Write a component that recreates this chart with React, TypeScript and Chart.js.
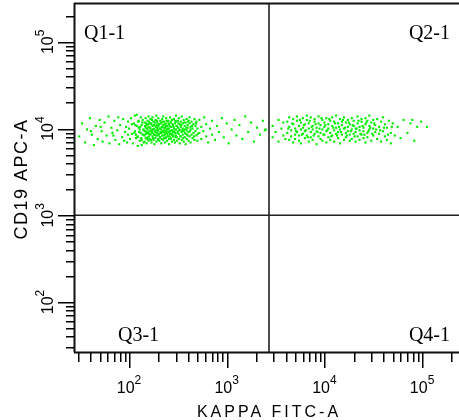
import React, { useEffect, useRef } from "react";
import { Chart, registerables } from "chart.js";

Chart.register(...registerables);

// Axis ranges (data units, log scales)
const X_MIN = 28.0;
const X_MAX = 238700;
const Y_MIN = 26.5;
const Y_MAX = 273500;

// Quadrant gate positions
const GATE_X = 2710;
const GATE_Y = 1000;

const DECADE_EXPONENTS = [2, 3, 4, 5];
const X_TITLE = "KAPPA FITC-A";
const Y_TITLE = "CD19 APC-A";
const QUADRANT_LABELS = ["Q1-1", "Q2-1", "Q3-1", "Q4-1"];

// Events as [log10(KAPPA FITC-A), log10(CD19 APC-A)]
const q1Points: number[][] = [
  [1.49,3.91],[1.52,4.06],[1.55,3.84],[1.57,3.99],[1.60,4.12],[1.62,3.93],[1.64,3.81],[1.66,4.03],[1.68,3.88],[1.70,4.10],
  [1.72,3.97],[1.73,3.85],[1.75,4.07],[1.77,3.92],[1.79,4.14],[1.80,3.83],[1.82,4.01],[1.83,3.95],[1.85,4.09],[1.86,3.87],
  [1.88,3.98],[1.89,4.13],[1.90,3.82],[1.91,4.04],[1.93,3.90],[1.94,4.11],[1.95,3.86],[1.96,3.96],[1.97,4.02],[1.98,3.84],
  [1.99,4.08],[1.99,3.93],[1.61,3.97],[1.71,4.02],[1.84,3.92],
  [2.00,4.00],[2.01,3.88],[2.02,4.12],[2.03,3.94],[2.04,3.83],[2.05,4.06],[2.06,3.97],[2.06,4.15],[2.07,3.89],[2.08,4.03],
  [2.09,3.91],[2.09,3.80],[2.10,4.09],[2.11,3.99],[2.11,3.86],[2.12,4.13],[2.12,3.95],[2.13,4.04],[2.13,3.87],[2.14,3.93],
  [2.14,4.10],[2.15,3.98],[2.15,3.84],[2.10,4.01],[2.07,3.93],[2.03,4.05],[2.13,3.81],[2.08,4.16],
  [2.16,3.92],[2.16,4.07],[2.16,3.85],[2.17,4.01],[2.17,3.89],[2.17,4.12],[2.18,3.96],[2.18,4.04],[2.18,3.83],
  [2.19,3.90],[2.19,4.09],[2.19,3.99],[2.20,4.02],[2.20,3.86],[2.20,3.94],[2.20,4.14],[2.21,3.97],[2.21,4.06],[2.21,3.88],
  [2.22,3.93],[2.22,4.11],[2.22,4.00],[2.23,3.84],[2.23,3.98],[2.23,4.05],[2.24,4.03],[2.24,3.91],[2.24,3.95],[2.24,4.13],
  [2.25,3.87],[2.25,4.08],[2.25,3.99],[2.26,4.00],[2.26,3.93],[2.26,3.82],[2.27,4.10],[2.27,3.96],[2.27,3.89],
  [2.28,4.04],[2.28,3.85],[2.28,3.98],[2.28,4.15],[2.29,3.92],[2.29,4.07],[2.29,4.01],[2.30,3.88],[2.30,3.97],[2.30,4.12],
  [2.30,4.03],[2.31,3.94],[2.31,4.05],[2.31,3.86],[2.32,4.00],[2.32,3.90],[2.32,4.09],[2.33,3.83],[2.33,3.99],[2.33,4.06],
  [2.33,3.95],[2.34,4.11],[2.34,3.92],[2.34,4.02],[2.35,3.87],[2.35,4.04],[2.35,3.96],[2.35,4.14],[2.36,3.98],[2.36,3.89],
  [2.36,4.08],[2.37,4.01],[2.37,3.93],[2.37,3.84],[2.38,4.06],[2.38,3.97],[2.38,3.90],[2.38,4.12],[2.39,3.95],[2.39,4.03],
  [2.39,3.86],[2.40,4.09],[2.40,3.99],[2.40,3.91],[2.41,3.88],[2.41,4.05],[2.41,4.00],[2.41,3.82],[2.42,3.94],[2.42,4.13],
  [2.42,3.97],[2.43,4.02],[2.43,3.89],[2.43,4.07],[2.44,3.85],[2.44,3.98],[2.44,4.10],[2.44,3.93],[2.45,4.04],[2.45,3.91],
  [2.45,3.96],[2.46,4.00],[2.46,4.11],[2.46,3.87],[2.47,3.95],[2.47,3.84],[2.47,4.06],[2.48,4.08],[2.48,3.92],[2.48,3.99],
  [2.48,4.15],[2.49,3.90],[2.49,4.03],[2.49,3.86],[2.50,3.97],[2.50,4.09],[2.50,4.01],[2.51,3.88],[2.51,3.94],[2.51,4.12],
  [2.52,4.05],[2.52,3.83],[2.52,3.98],[2.53,3.91],[2.53,4.02],[2.53,4.08],[2.54,3.96],[2.54,3.87],[2.54,4.14],[2.55,4.00],
  [2.55,3.93],[2.55,4.06],[2.56,3.85],[2.56,4.10],[2.56,3.97],[2.57,4.03],[2.57,3.90],[2.57,3.99],[2.58,3.94],[2.58,4.07],
  [2.58,3.82],[2.59,4.11],[2.59,3.98],[2.59,3.88],[2.60,3.92],[2.60,4.04],[2.60,4.01],[2.61,3.86],[2.61,3.96],[2.61,4.09],
  [2.62,4.06],[2.62,3.91],[2.62,4.13],[2.63,3.99],[2.63,3.84],[2.63,4.02],[2.64,3.93],[2.64,4.08],[2.65,4.00],[2.65,3.89],
  [2.66,4.05],[2.66,3.95],[2.67,3.87],[2.67,4.11],[2.68,3.97],[2.68,4.03],[2.69,3.92],[2.69,4.08],[2.70,3.86],[2.70,4.00],
  [2.055,3.95],[2.065,4.04],[2.085,3.90],[2.095,4.08],[2.105,3.96],[2.115,4.02],[2.125,3.89],[2.135,4.07],[2.145,3.99],[2.155,3.93],
  [2.165,4.03],[2.165,3.97],[2.175,3.94],[2.175,4.06],[2.185,4.00],[2.185,3.88],[2.195,4.05],[2.195,3.95],[2.205,3.91],[2.205,4.08],
  [2.215,4.01],[2.215,3.94],[2.225,4.06],[2.225,3.87],[2.235,3.96],[2.235,4.10],[2.245,3.99],[2.245,3.89],[2.255,4.04],[2.255,3.93],
  [2.265,3.97],[2.265,4.07],[2.275,3.92],[2.275,4.02],[2.285,3.95],[2.285,4.09],[2.295,3.99],[2.295,3.87],[2.305,4.05],[2.305,3.93],
  [2.315,4.00],[2.315,3.90],[2.325,4.07],[2.325,3.96],[2.335,4.02],[2.335,3.88],[2.345,3.97],[2.345,4.08],[2.355,3.92],[2.355,4.01],
  [2.365,4.05],[2.365,3.95],[2.375,3.89],[2.375,4.03],[2.385,3.99],[2.385,4.09],[2.395,3.93],[2.395,4.00],[2.405,4.06],[2.405,3.96],
  [2.415,3.91],[2.415,4.03],[2.425,4.08],[2.425,3.88],[2.435,3.98],[2.435,3.94],[2.445,4.05],[2.455,3.92],[2.455,4.02],[2.465,3.97],
  [2.475,4.09],[2.475,3.90],[2.485,4.03],[2.495,3.95],[2.505,4.06],[2.515,3.99],[2.525,3.91],[2.535,4.04],[2.545,3.98],[2.555,3.89],
  [2.565,4.07],[2.575,3.95],[2.585,4.01],[2.595,3.93],[2.605,4.08],[2.625,3.97],[2.645,4.03],[2.665,3.91],[2.685,4.06],[2.705,3.94],
  [2.72,3.95],[2.72,4.10],[2.74,4.02],[2.74,3.88],[2.76,3.97],[2.77,4.13],[2.79,3.91],[2.79,4.05],[2.81,3.84],[2.83,4.00],
  [2.85,3.93],[2.85,4.09],[2.88,3.87],[2.90,4.03],[2.92,3.96],[2.95,4.12],[2.97,3.90],[3.00,4.06],[3.02,3.83],[3.05,3.99],
  [3.08,4.10],[3.10,3.92],[3.13,4.04],[3.16,3.88],[3.19,4.14],[3.22,3.96],[3.25,4.07],[3.28,3.85],[3.31,4.01],[3.34,3.93],
  [3.37,4.09],[3.39,3.98],[3.40,3.99],
];

const q2Points: number[][] = [
  [3.47,4.03],[3.47,3.90],[3.50,3.96],[3.53,4.10],[3.53,3.85],[3.56,4.00],[3.58,3.92],[3.58,4.07],[3.60,3.88],
  [3.62,3.95],[3.62,4.08],[3.64,3.87],[3.64,4.02],[3.64,4.13],[3.66,3.98],[3.66,3.91],[3.68,4.05],[3.68,3.84],[3.68,4.11],
  [3.70,3.93],[3.70,4.00],[3.70,3.88],[3.72,4.09],[3.72,3.96],[3.72,4.14],[3.74,3.86],[3.74,4.03],[3.74,3.92],[3.76,4.07],
  [3.76,3.99],[3.76,3.83],[3.78,3.94],[3.78,4.12],[3.78,4.01],[3.80,3.89],[3.80,4.05],[3.80,3.97],[3.82,4.10],[3.82,3.92],
  [3.82,4.15],[3.84,3.85],[3.84,4.00],[3.84,4.06],[3.86,3.96],[3.86,3.90],[3.86,4.13],[3.88,4.03],[3.88,3.87],[3.88,3.99],
  [3.90,4.08],[3.90,3.94],[3.90,4.11],[3.92,3.82],[3.92,4.01],[3.92,3.97],[3.94,4.06],[3.94,3.91],[3.94,4.14],[3.96,3.88],
  [3.96,4.04],[3.96,3.95],[3.98,4.10],[3.98,3.99],[3.98,3.86],[4.00,3.93],[4.00,4.07],[4.00,4.02],[4.02,3.84],[4.02,3.97],
  [4.02,4.12],[4.04,4.05],[4.04,3.90],[4.04,4.00],[4.06,3.95],[4.06,4.09],[4.06,3.87],[4.08,4.13],[4.08,3.92],[4.08,4.03],
  [4.10,3.98],[4.10,3.85],[4.10,4.08],[4.12,4.01],[4.12,3.94],[4.12,4.15],[4.14,3.89],[4.14,4.06],[4.14,3.96],[4.16,4.11],
  [4.16,3.99],[4.16,3.83],[4.18,3.93],[4.18,4.04],[4.18,4.08],[4.20,3.87],[4.20,4.00],[4.20,4.13],[4.22,4.07],[4.22,3.95],
  [4.22,3.90],[4.24,3.97],[4.24,4.10],[4.24,4.02],[4.26,3.86],[4.26,4.05],[4.26,3.93],[4.28,4.12],[4.28,3.99],[4.28,3.88],
  [4.30,3.94],[4.30,4.03],[4.30,4.09],[4.32,4.00],[4.32,3.85],[4.32,3.96],[4.34,4.14],[4.34,3.91],[4.34,4.06],[4.36,3.98],
  [4.36,4.02],[4.36,3.87],[4.38,4.08],[4.38,3.93],[4.38,4.11],[4.40,3.89],[4.40,4.01],[4.40,3.97],[4.42,4.05],[4.42,3.84],
  [4.42,4.12],[4.44,3.95],[4.44,4.09],[4.44,3.90],[4.46,4.03],[4.46,3.99],[4.46,4.15],[4.48,3.86],[4.48,4.07],[4.50,4.00],
  [4.50,3.92],[4.50,4.10],[4.52,3.96],[4.52,4.04],[4.54,3.88],[4.54,4.11],[4.56,4.02],[4.56,3.94],[4.58,4.08],[4.58,3.85],
  [4.60,3.97],[4.60,4.13],[4.62,3.91],[4.62,4.05],[4.64,4.01],[4.64,3.87],[4.66,4.09],[4.68,3.95],[4.68,3.83],[4.70,4.06],
  [3.63,4.00],[3.67,4.06],[3.71,3.97],[3.75,4.10],[3.77,3.93],[3.79,4.04],[3.81,3.98],[3.83,3.90],[3.85,4.09],[3.87,4.02],
  [3.89,3.92],[3.91,4.05],[3.93,3.96],[3.95,4.00],[3.97,4.12],[3.99,3.93],[4.01,4.04],[4.03,3.98],[4.05,4.11],[4.07,3.91],
  [4.09,4.01],[4.11,4.06],[4.13,3.92],[4.15,4.02],[4.17,3.96],[4.19,4.10],[4.21,4.01],[4.23,3.92],[4.25,4.07],[4.27,3.97],
  [4.29,4.04],[4.31,3.91],[4.33,4.00],[4.35,4.09],[4.37,3.94],[4.39,4.03],[4.41,3.93],[4.43,4.07],[4.45,3.97],[4.47,4.01],
  [4.49,3.94],[4.51,4.06],[4.53,3.99],[4.57,3.98],[4.61,4.01],[4.65,3.93],[4.69,4.02],
  [4.72,3.92],[4.75,4.02],[4.78,3.89],[4.81,4.10],[4.85,3.95],[4.88,4.06],[4.90,4.10],[4.92,3.86],[4.95,4.02],[4.99,4.08],
  [5.05,4.02],
];

const overlayPlugin = {
  id: "facsOverlay",
  beforeDatasetsDraw(chart: any) {
    const { ctx, chartArea: a, scales } = chart;
    const gx = scales.x.getPixelForValue(GATE_X);
    const gy = scales.y.getPixelForValue(GATE_Y);
    ctx.save();
    ctx.strokeStyle = "#222";
    ctx.lineWidth = 1.6;
    ctx.beginPath();
    ctx.moveTo(gx, a.top);
    ctx.lineTo(gx, a.bottom);
    ctx.moveTo(a.left, gy);
    ctx.lineTo(a.right, gy);
    ctx.stroke();
    ctx.restore();
  },
  afterDraw(chart: any) {
    const { ctx, chartArea: a, scales } = chart;
    const xs = scales.x;
    const ys = scales.y;
    ctx.save();
    // frame: top, left, bottom
    ctx.strokeStyle = "#111";
    ctx.lineWidth = 2;
    ctx.beginPath();
    ctx.moveTo(a.left - 1, a.top - 0.5);
    ctx.lineTo(a.right, a.top - 0.5);
    ctx.moveTo(a.left - 0.5, a.top - 1);
    ctx.lineTo(a.left - 0.5, a.bottom + 0.5);
    ctx.moveTo(a.left - 1, a.bottom + 0.5);
    ctx.lineTo(a.right, a.bottom + 0.5);
    ctx.stroke();

    // ticks (crisp filled rectangles)
    ctx.fillStyle = "#000";
    const axisX = Math.round(a.left) - 1;
    const axisY = Math.round(a.bottom) + 1;
    for (let e = 1; e <= 5; e++) {
      for (let k = 1; k <= 9; k++) {
        const v = k * Math.pow(10, e);
        if (v >= X_MIN && v <= X_MAX) {
          const px = Math.round(xs.getPixelForValue(v));
          const len = k === 1 ? 15 : 9;
          ctx.fillRect(px, axisY, 1.5, len);
        }
        if (v >= Y_MIN && v <= Y_MAX) {
          const py = Math.round(ys.getPixelForValue(v));
          const len = k === 1 ? 16 : 8;
          ctx.fillRect(axisX - len, py, len, 1.5);
        }
      }
    }

    // tick labels
    ctx.fillStyle = "#000";
    ctx.textBaseline = "alphabetic";
    ctx.textAlign = "left";
    const baseFont = "16px Arial, 'Liberation Sans', sans-serif";
    const supFont = "12px Arial, 'Liberation Sans', sans-serif";
    for (const e of DECADE_EXPONENTS) {
      const sup = String(e);
      ctx.font = baseFont;
      const w10 = ctx.measureText("10").width;
      ctx.font = supFont;
      const ws = ctx.measureText(sup).width;
      const total = w10 + ws;
      // x axis
      const px = xs.getPixelForValue(Math.pow(10, e));
      const sx = px - total / 2;
      ctx.font = baseFont;
      ctx.fillText("10", sx, 393);
      ctx.font = supFont;
      ctx.fillText(sup, sx + w10, 384);
      // y axis (rotated)
      const py = ys.getPixelForValue(Math.pow(10, e));
      ctx.save();
      ctx.translate(52.5, py);
      ctx.rotate(-Math.PI / 2);
      ctx.font = baseFont;
      ctx.fillText("10", -total / 2, 0);
      ctx.font = supFont;
      ctx.fillText(sup, -total / 2 + w10, -9);
      ctx.restore();
    }

    // axis titles
    ctx.textAlign = "center";
    ctx.font = "16px Arial, 'Liberation Sans', sans-serif";
    (ctx as any).letterSpacing = "3px";
    ctx.fillText(X_TITLE, (a.left + a.right) / 2 + 2, 417);
    ctx.save();
    ctx.translate(27, (a.top + a.bottom) / 2 + 1);
    ctx.rotate(-Math.PI / 2);
    ctx.font = "18px Arial, 'Liberation Sans', sans-serif";
    (ctx as any).letterSpacing = "1.5px";
    ctx.fillText(Y_TITLE, 0, 0);
    ctx.restore();
    (ctx as any).letterSpacing = "0px";

    // quadrant labels
    ctx.font = "20px 'Liberation Serif', 'Times New Roman', serif";
    ctx.textAlign = "left";
    ctx.fillText(QUADRANT_LABELS[0], 84, 39);
    ctx.fillText(QUADRANT_LABELS[2], 118, 341);
    ctx.textAlign = "right";
    ctx.fillText(QUADRANT_LABELS[1], 450, 39);
    ctx.fillText(QUADRANT_LABELS[3], 450, 341);
    ctx.restore();
  },
};

export default function App() {
  const canvasRef = useRef<HTMLCanvasElement | null>(null);

  useEffect(() => {
    const canvas = canvasRef.current;
    if (!canvas) return;
    const toXY = (p: number[]) => ({ x: Math.pow(10, p[0]), y: Math.pow(10, p[1]) });
    const chart = new Chart(canvas, {
      type: "scatter",
      data: {
        datasets: [
          {
            label: "Q1",
            data: q1Points.map(toXY),
            backgroundColor: "#00ee00",
            borderWidth: 0,
            pointStyle: "rect",
            pointRadius: 1.5,
          },
          {
            label: "Q2",
            data: q2Points.map(toXY),
            backgroundColor: "#00ee00",
            borderWidth: 0,
            pointStyle: "rect",
            pointRadius: 1.5,
          },
        ],
      },
      options: {
        animation: false,
        responsive: false,
        events: [],
        layout: { autoPadding: false, padding: { left: 75, top: 4, right: 0, bottom: 68 } },
        plugins: { legend: { display: false }, tooltip: { enabled: false } },
        scales: {
          x: { type: "logarithmic", min: X_MIN, max: X_MAX, display: false },
          y: { type: "logarithmic", min: Y_MIN, max: Y_MAX, display: false },
        },
      },
      plugins: [overlayPlugin],
    });
    return () => chart.destroy();
  }, []);

  return (
    <div style={{ position: "fixed", left: 0, top: 0, width: 459, height: 420, background: "#fff" }}>
      <canvas ref={canvasRef} width={459} height={420} />
    </div>
  );
}
